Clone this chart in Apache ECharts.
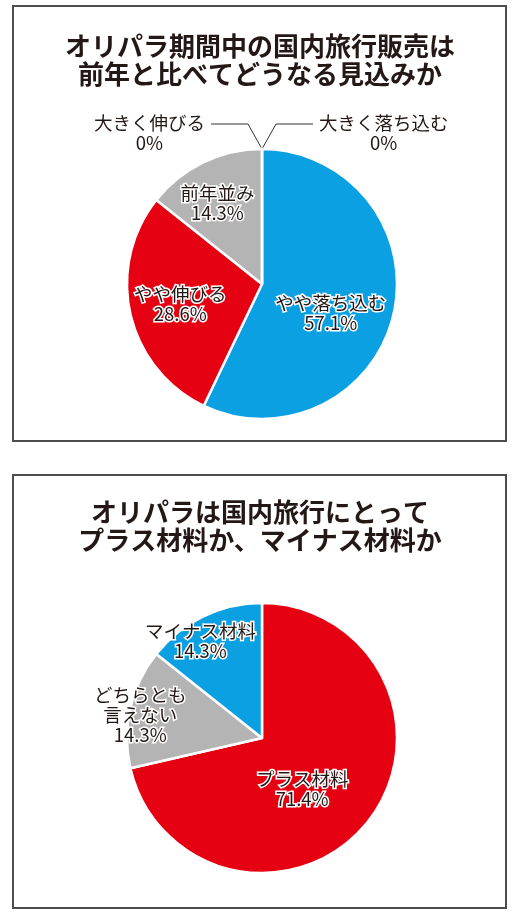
<!DOCTYPE html>
<html lang="ja">
<head>
<meta charset="UTF-8">
<title>オリパラと国内旅行</title>
<script src="https://cdn.jsdelivr.net/npm/echarts@6/dist/echarts.min.js"></script>
<style>
    html, body { margin: 0; padding: 0; background: #fff; }
    #chart { width: 520px; height: 921px; }
</style>
</head>
<body>
<div id="chart"></div>
<script>
// 上のグラフ：オリパラ期間中の国内旅行販売（時計回りの並び）
const titleLines1 = ['オリパラ期間中の国内旅行販売は', '前年と比べてどうなる見込みか'];
const categories1 = ['大きく伸びる', 'やや落ち込む', 'やや伸びる', '前年並み', '大きく落ち込む'];
const values1 = [0, 57.1, 28.6, 14.3, 0];

// 下のグラフ：プラス材料か、マイナス材料か
const titleLines2 = ['オリパラは国内旅行にとって', 'プラス材料か、マイナス材料か'];
const categories2 = ['プラス材料', 'どちらとも\n言えない', 'マイナス材料'];
const values2 = [71.4, 14.3, 14.3];

document.addEventListener('DOMContentLoaded', () => {
    const FONT = '"Noto Sans CJK JP", "Noto Sans", sans-serif';
    const TEXT = '#231815';
    const BLUE = '#0aa0e2';
    const RED = '#e50012';
    const GRAY = '#b4b4b4';
    const R = 135;

    const colors1 = [GRAY, BLUE, RED, GRAY, BLUE];
    const colors2 = [RED, GRAY, BLUE];

    // ラベルの微調整（dx, dy）
    const shifts1 = [[0, 0], [0, 13], [-13, 4], [-14, -18], [0, 0]];
    const shifts2 = [[-15, 7], [-53, -7], [-31, -34]];

    const labelBase = {
        show: true,
        position: 'inside',
        fontFamily: FONT,
        fontSize: 18.5,
        lineHeight: 20,
        color: TEXT,
        textBorderColor: '#fff',
        textBorderWidth: 3,
        formatter: (p) => p.name + '\n' + p.value + '%'
    };

    const buildData = (names, vals, colors) => names.map((name, i) => {
        const item = { name: name, value: vals[i], itemStyle: { color: colors[i] } };
        if (vals[i] === 0) {
            // 0% の項目は外側にリード線付きで表示
            item.label = { position: 'outside', textBorderWidth: 0, distanceToLabelLine: 6 };
            item.labelLine = {
                show: true,
                length: 25,
                length2: 37,
                lineStyle: { color: '#333', width: 1 }
            };
        }
        return item;
    });

    const initChart = () => {
        const el = document.getElementById('chart');
        if (!el) return;
        const chart = echarts.init(el);

        const titleStyle = {
            fontFamily: FONT,
            fontSize: 26,
            fontWeight: 'bold',
            color: TEXT,
            lineHeight: 28
        };

        const option = {
            animation: false,
            title: [
                { text: titleLines1.join('\n'), left: 'center', top: 27, textStyle: titleStyle },
                { text: titleLines2.join('\n'), left: 'center', top: 493, textStyle: titleStyle }
            ],
            graphic: [
                { type: 'rect', shape: { x: 13, y: 6, width: 493, height: 435 }, style: { fill: 'none', stroke: '#4d4d4d', lineWidth: 2 } },
                { type: 'rect', shape: { x: 13, y: 475, width: 493, height: 433 }, style: { fill: 'none', stroke: '#4d4d4d', lineWidth: 2 } }
            ],
            series: [
                {
                    type: 'pie',
                    center: [262, 284],
                    radius: R,
                    startAngle: 90,
                    clockwise: true,
                    avoidLabelOverlap: false,
                    silent: true,
                    itemStyle: { borderColor: '#fff', borderWidth: 2.5 },
                    label: labelBase,
                    labelLine: { show: false },
                    labelLayout: (params) => {
                        const i = params.dataIndex;
                        const p = params.labelLinePoints;
                        if (values1[i] === 0 && p) {
                            const side = p[2][0] < p[0][0] ? -1 : 1;
                            const bendX = p[0][0] + side * 14;
                            const endX = bendX + side * 37;
                            const w = params.labelRect.width;
                            return {
                                x: endX + side * (6 + w / 2),
                                y: p[1][1] + 9,
                                align: 'center',
                                verticalAlign: 'middle',
                                labelLinePoints: [p[0], [bendX, p[1][1]], [endX, p[1][1]]]
                            };
                        }
                        return { dx: shifts1[i][0], dy: shifts1[i][1] };
                    },
                    data: buildData(categories1, values1, colors1)
                },
                {
                    type: 'pie',
                    center: [262, 738],
                    radius: R,
                    startAngle: 90,
                    clockwise: true,
                    avoidLabelOverlap: false,
                    silent: true,
                    itemStyle: { borderColor: '#fff', borderWidth: 2.5 },
                    label: labelBase,
                    labelLine: { show: false },
                    labelLayout: (params) => {
                        const i = params.dataIndex;
                        return { dx: shifts2[i][0], dy: shifts2[i][1] };
                    },
                    data: buildData(categories2, values2, colors2)
                }
            ]
        };

        chart.setOption(option);
        window.addEventListener('resize', () => chart.resize());
    };

    initChart();
});
</script>
</body>
</html>
